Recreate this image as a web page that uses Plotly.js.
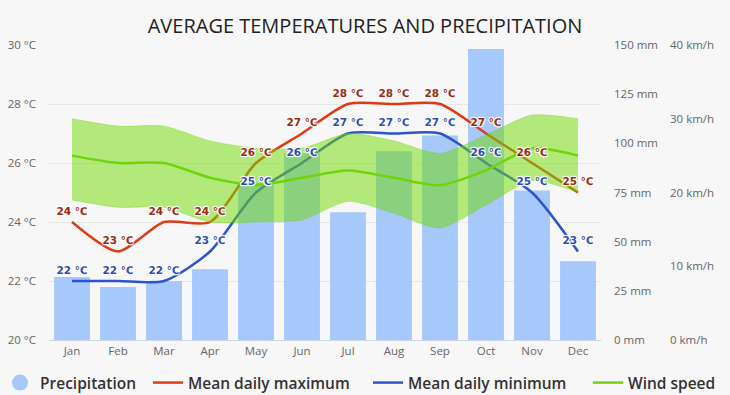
<!DOCTYPE html>
<html>
<head>
<meta charset="utf-8">
<script src="https://cdn.plot.ly/plotly-3.0.1.min.js"></script>
<style>html,body{margin:0;padding:0;background:#f7f7f7;}#chart{width:730px;height:395px;}</style>
</head>
<body>
<div id="chart"></div>
<script>
const months = ['Jan','Feb','Mar','Apr','May','Jun','Jul','Aug','Sep','Oct','Nov','Dec'];
const precipitation = [32, 27, 30, 36, 80, 95, 65, 96, 104, 148, 76, 40];
const tempMax = [24, 23, 24, 24, 26, 27, 28, 28, 28, 27, 26, 25];
const tempMin = [22, 22, 22, 23, 25, 26, 27, 27, 27, 26, 25, 23];
const windMean = [25, 24, 24, 22, 21, 22, 23, 22, 21, 23, 26, 25];
const windLow = [19, 18, 18, 16, 16, 16.3, 18.8, 17.2, 15.2, 18.3, 21.6, 20];
const windHigh = [30, 29, 29, 27, 26, 26, 28, 27, 25.3, 27.8, 30.5, 30];
const tempTicks = [20, 22, 24, 26, 28, 30];
const precipTicks = [0, 25, 50, 75, 100, 125, 150];
const windTicks = [0, 10, 20, 30, 40];

const tickFont = {family: 'Open Sans, DejaVu Sans, sans-serif', size: 11.5, color: '#666'};
const labelShadow = '1px 1px 1px #fff, -1px -1px 1px #fff, 1px -1px 1px #fff, -1px 1px 1px #fff, 0 0 2px #fff';
const legendFont = {family: 'Open Sans, sans-serif', size: 15.5, color: '#333', weight: 600};

const traces = [
  {type: 'scatter', mode: 'markers', x: [null], y: [null], name: 'Precipitation', legend: 'legend',
   marker: {color: '#a6c8fa', size: 16, symbol: 'circle'}, xaxis: 'x', yaxis: 'y', hoverinfo: 'skip'},
  {type: 'bar', x: months, y: precipitation, name: 'Precipitation', showlegend: false,
   marker: {color: '#a6c8fa'}, xaxis: 'x', yaxis: 'y'},
  {type: 'scatter', mode: 'lines', x: months, y: tempMax, name: 'Mean daily maximum', legend: 'legend2',
   line: {color: '#dc3c14', width: 2.5, shape: 'spline', smoothing: 0.7}, xaxis: 'x', yaxis: 'y2'},
  {type: 'scatter', mode: 'lines', x: months, y: tempMin, name: 'Mean daily minimum', legend: 'legend3',
   line: {color: '#2b55c8', width: 2.5, shape: 'spline', smoothing: 0.7}, xaxis: 'x', yaxis: 'y2'},
  {type: 'scatter', mode: 'lines', x: months, y: windLow, showlegend: false,
   line: {color: 'rgba(110,210,0,0.35)', width: 1, shape: 'spline', smoothing: 0.7}, xaxis: 'x', yaxis: 'y3', hoverinfo: 'skip'},
  {type: 'scatter', mode: 'lines', x: months, y: windHigh, showlegend: false, fill: 'tonexty',
   fillcolor: 'rgba(112,218,0,0.5)',
   line: {color: 'rgba(110,210,0,0.35)', width: 1, shape: 'spline', smoothing: 0.7}, xaxis: 'x', yaxis: 'y3', hoverinfo: 'skip'},
  {type: 'scatter', mode: 'lines', x: months, y: windMean, name: 'Wind speed', legend: 'legend4',
   line: {color: '#6fd40a', width: 2.5, shape: 'spline', smoothing: 0.7}, xaxis: 'x', yaxis: 'y3'},
  {type: 'scatter', mode: 'text', x: months, y: tempMax, showlegend: false,
   text: tempMax.map(v => v + ' \u2103'), textposition: 'top center',
   textfont: {family: 'DejaVu Sans, sans-serif', size: 10.5, color: '#9a2a0c', weight: 'bold', shadow: labelShadow},
   xaxis: 'x', yaxis: 'y4', hoverinfo: 'skip'},
  {type: 'scatter', mode: 'text', x: months, y: tempMin, showlegend: false,
   text: tempMin.map(v => v + ' \u2103'), textposition: 'top center',
   textfont: {family: 'DejaVu Sans, sans-serif', size: 10.5, color: '#2a4fb4', weight: 'bold', shadow: labelShadow},
   xaxis: 'x', yaxis: 'y4', hoverinfo: 'skip'}
];

const W = 671; // paper width in px (730 - l - r)
const legendY = 1 - 383 / 395;
function legendAt(px) {
  return {orientation: 'h', x: px / 730, xref: 'container', xanchor: 'left', y: legendY, yref: 'container',
          yanchor: 'middle', font: legendFont, bgcolor: 'rgba(0,0,0,0)', itemwidth: 30};
}
const layout = {
  width: 730, height: 395,
  paper_bgcolor: '#f7f7f7', plot_bgcolor: '#f7f7f7',
  margin: {l: 49, r: 10, t: 45, b: 55},
  title: {text: 'AVERAGE TEMPERATURES AND PRECIPITATION', x: 0.5, xref: 'container', xanchor: 'center',
          y: 1 - 26/395, yref: 'container', yanchor: 'middle',
          font: {family: 'Open Sans, sans-serif', size: 20, color: '#222'}},
  showlegend: true,
  legend: legendAt(-3),
  legend2: legendAt(148),
  legend3: legendAt(368),
  legend4: legendAt(588),
  bargap: 0.22,
  xaxis: {type: 'category', range: [-0.5, 11.5], domain: [0, 552 / W], showgrid: false, showline: true,
          linecolor: '#ccd6eb', linewidth: 1, ticks: '', tickfont: tickFont, fixedrange: true,
          zeroline: false, automargin: false},
  yaxis: {range: [0, 150], tickvals: precipTicks, ticktext: precipTicks.map(v => v + ' mm'),
          anchor: 'free', position: 613 / W - 49 / W, side: 'right', showgrid: false, zeroline: false,
          showline: false, ticks: '', tickfont: tickFont, automargin: false},
  yaxis2: {range: [20, 30], tickvals: tempTicks, ticktext: tempTicks.map(v => v + ' °C'),
           overlaying: 'y', side: 'left', anchor: 'x', showgrid: true, gridcolor: '#e6e6e6', gridwidth: 1,
           zeroline: false, showline: false, ticks: '', tickfont: tickFont, ticklabelstandoff: 12, automargin: false},
  yaxis3: {range: [0, 40], tickvals: windTicks, ticktext: windTicks.map(v => v + ' km/h'),
           overlaying: 'y', anchor: 'free', position: 669 / W - 49 / W, side: 'right', showgrid: false,
           zeroline: false, showline: false, ticks: '', tickfont: tickFont, automargin: false},
  yaxis4: {range: [19.84, 29.84], overlaying: 'y', anchor: 'x', visible: false, showgrid: false, zeroline: false}
};

Plotly.newPlot('chart', traces, layout, {displayModeBar: false, staticPlot: true});
</script>
</body>
</html>
